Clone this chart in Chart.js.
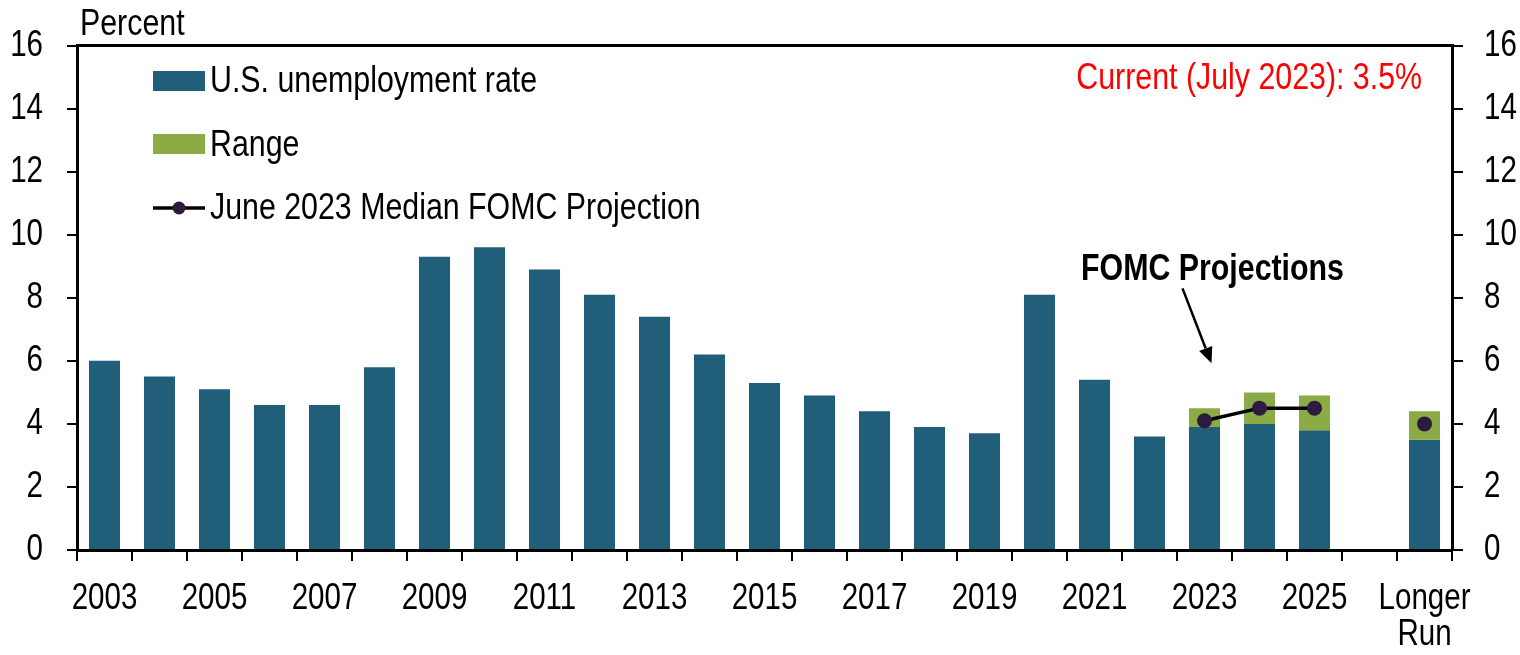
<!DOCTYPE html>
<html>
<head>
<meta charset="utf-8">
<script src="https://cdn.jsdelivr.net/npm/chart.js@4.4.0/dist/chart.umd.min.js"></script>
<style>
  html, body { margin: 0; padding: 0; background: #ffffff; }
  #wrap { width: 1520px; height: 655px; position: relative; }
</style>
</head>
<body>
<div id="wrap"><canvas id="c" width="1520" height="655"></canvas></div>
<script>
// ---- Data ----
const categories = ["2003","2004","2005","2006","2007","2008","2009","2010","2011","2012","2013",
  "2014","2015","2016","2017","2018","2019","2020","2021","2022","2023","2024","2025","","Longer Run"];
const xTickLabels = ["2003","","2005","","2007","","2009","","2011","","2013","","2015","","2017",
  "","2019","","2021","","2023","","2025","",["Longer","Run"]];
const unemployment = [6.0,5.5,5.1,4.6,4.6,5.8,9.3,9.6,8.9,8.1,7.4,6.2,5.3,4.9,4.4,3.9,3.7,8.1,5.4,3.6,
  3.9,4.0,3.8,null,3.5];
const rangeLow  = [null,null,null,null,null,null,null,null,null,null,null,null,null,null,null,null,null,null,null,null,
  3.9,4.0,3.8,null,3.5];
const rangeHigh = [null,null,null,null,null,null,null,null,null,null,null,null,null,null,null,null,null,null,null,null,
  4.5,5.0,4.9,null,4.4];
const medianProjection = [null,null,null,null,null,null,null,null,null,null,null,null,null,null,null,null,null,null,null,null,
  4.1,4.5,4.5,null,4.0];
const yTicks = [0,2,4,6,8,10,12,14,16];

const FONT = '"Liberation Sans", Arial, sans-serif';
const NARROW = 0.82; // emulate a narrow (condensed) face
const BLUE = '#215E79';
const GREEN = '#8AAB45';
const DOT = '#2D1B3F';

const rangeData = rangeLow.map((lo, i) => (lo === null ? null : [lo, rangeHigh[i]]));

// condensed text: horizontally compress every text drawn on this canvas
const canvas = document.getElementById('c');
const ctx0 = canvas.getContext('2d');
const origFillText = ctx0.fillText;
ctx0.fillText = function (t, x, y, mw) {
  const w = this.measureText(t).width * NARROW;
  const m = (mw !== undefined && mw !== null) ? Math.min(mw, w) : w;
  return origFillText.call(this, t, x, y, m > 0 ? m : undefined);
};

const overlay = {
  id: 'overlay',
  afterDraw(chart) {
    const ctx = chart.ctx;
    const ca = chart.chartArea;
    const xs = chart.scales.x, ys = chart.scales.y;
    ctx.save();
    // top border
    ctx.strokeStyle = '#000'; ctx.lineWidth = 3;
    ctx.beginPath(); ctx.moveTo(ca.left - 1, ca.top); ctx.lineTo(ca.right + 1, ca.top); ctx.stroke();

    ctx.fillStyle = '#000';
    ctx.textBaseline = 'middle';
    ctx.font = '37px ' + FONT;
    ctx.textAlign = 'left';
    ctx.fillText('Percent', ca.left + 3, 25);

    // legend
    const lx = ca.left + 76, lw = 52, tx = lx + 57;
    ctx.fillStyle = BLUE; ctx.fillRect(lx, 71, lw, 20);
    ctx.fillStyle = GREEN; ctx.fillRect(lx, 134, lw, 20);
    ctx.strokeStyle = '#000'; ctx.lineWidth = 3.5;
    ctx.beginPath(); ctx.moveTo(lx, 208); ctx.lineTo(lx + lw, 208); ctx.stroke();
    ctx.fillStyle = DOT; ctx.beginPath(); ctx.arc(lx + lw / 2, 208, 6.5, 0, Math.PI * 2); ctx.fill();
    ctx.fillStyle = '#000';
    ctx.fillText('U.S. unemployment rate', tx, 82);
    ctx.fillText('Range', tx, 146);
    ctx.fillText('June 2023 Median FOMC Projection', tx, 209);

    // current note
    ctx.fillStyle = '#FF0000';
    ctx.textAlign = 'right';
    ctx.fillText('Current (July 2023): 3.5%', ca.right - 30, 79);

    // FOMC Projections annotation
    const px = xs.getPixelForValue(20);
    ctx.fillStyle = '#000';
    ctx.textAlign = 'center';
    ctx.font = 'bold 37px ' + FONT;
    ctx.fillText('FOMC Projections', px + 8, ys.getPixelForValue(8.9));
    // arrow
    const x1 = px - 22, y1 = ys.getPixelForValue(8.3);
    const x2 = px + 7, y2 = ys.getPixelForValue(5.92);
    const ang = Math.atan2(y2 - y1, x2 - x1);
    const hl = 16, hw = 7;
    const bx = x2 - hl * Math.cos(ang), by = y2 - hl * Math.sin(ang);
    ctx.strokeStyle = '#000'; ctx.lineWidth = 2.5;
    ctx.beginPath(); ctx.moveTo(x1, y1); ctx.lineTo(bx, by); ctx.stroke();
    ctx.beginPath();
    ctx.moveTo(x2, y2);
    ctx.lineTo(bx + hw * Math.sin(ang), by - hw * Math.cos(ang));
    ctx.lineTo(bx - hw * Math.sin(ang), by + hw * Math.cos(ang));
    ctx.closePath(); ctx.fill();
    ctx.restore();
  }
};

new Chart(canvas, {
  data: {
    labels: categories,
    datasets: [
      { type: 'line', label: 'June 2023 Median FOMC Projection', data: medianProjection,
        borderColor: '#000', borderWidth: 3.5, pointRadius: 7.5, pointHoverRadius: 7.5,
        pointBackgroundColor: DOT, pointBorderColor: DOT, pointBorderWidth: 0,
        spanGaps: false, order: 0, yAxisID: 'y' },
      { type: 'bar', label: 'Range', data: rangeData, backgroundColor: GREEN,
        categoryPercentage: 1, barPercentage: 0.565, order: 1, yAxisID: 'y' },
      { type: 'bar', label: 'U.S. unemployment rate', data: unemployment, backgroundColor: BLUE,
        categoryPercentage: 1, barPercentage: 0.565, order: 2, yAxisID: 'y' }
    ]
  },
  options: {
    responsive: false,
    animation: false,
    layout: { padding: { top: 44, left: 0, right: 0, bottom: 0 } },
    plugins: { legend: { display: false }, tooltip: { enabled: false } },
    scales: {
      x: {
        stacked: true,
        grid: { offset: true, drawOnChartArea: false, drawTicks: true, tickLength: 11, color: '#000', lineWidth: 2 },
        border: { color: '#000', width: 3 },
        ticks: {
          autoSkip: false, maxRotation: 0, minRotation: 0, padding: 20, color: '#000',
          font: { family: FONT, size: 36, lineHeight: 1.0 },
          callback: (v, i) => xTickLabels[i]
        },
        afterFit: (s) => { s.height = 105; }
      },
      y: {
        position: 'left', stacked: false, min: 0, max: 16,
        afterBuildTicks: (s) => { s.ticks = yTicks.map(v => ({ value: v })); },
        grid: { drawOnChartArea: false, tickLength: 10, color: '#000', lineWidth: 2 },
        border: { color: '#000', width: 3 },
        ticks: { padding: 24, color: '#000', font: { family: FONT, size: 36 } },
        afterFit: (s) => { s.width = 77; }
      },
      y2: {
        position: 'right', min: 0, max: 16,
        afterBuildTicks: (s) => { s.ticks = yTicks.map(v => ({ value: v })); },
        grid: { drawOnChartArea: false, tickLength: 11, color: '#000', lineWidth: 2 },
        border: { color: '#000', width: 3 },
        ticks: { padding: 21, color: '#000', font: { family: FONT, size: 36 } },
        afterFit: (s) => { s.width = 68; }
      }
    }
  },
  plugins: [overlay]
});
</script>
</body>
</html>
